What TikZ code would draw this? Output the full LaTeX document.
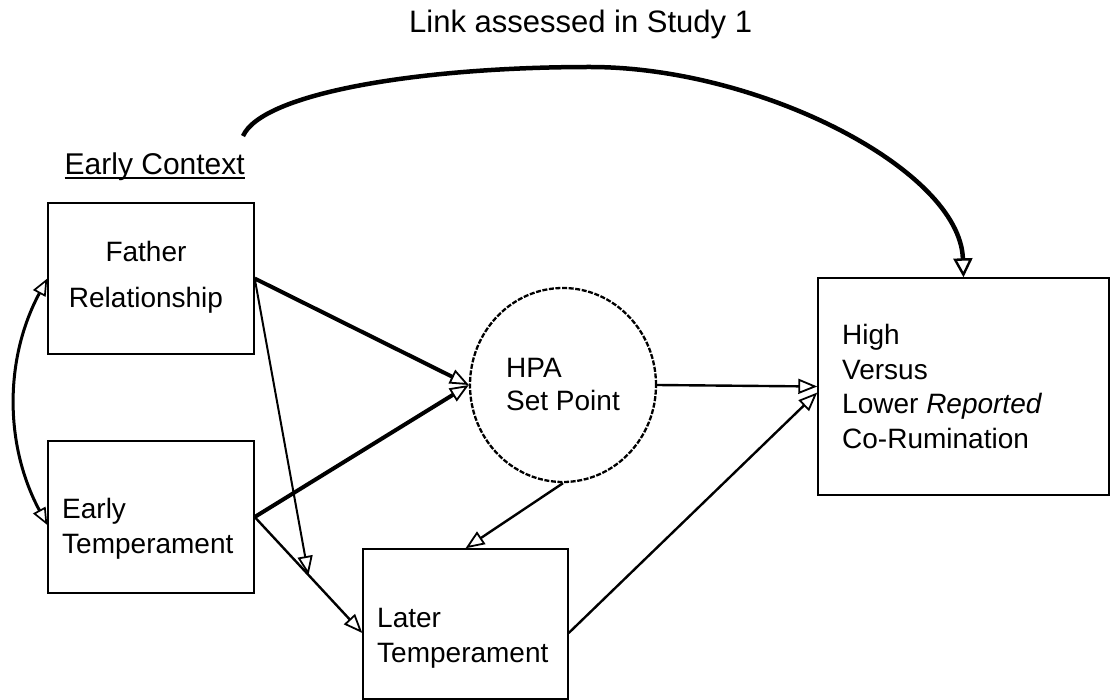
\documentclass[tikz,border=0pt]{standalone}
\usepackage{fontspec}
\setmainfont{Liberation Sans}
\usetikzlibrary{arrows.meta, shapes.geometric, calc}
\tikzset{
  x=1pt, y=-1pt,
  varbox/.style={draw, line width=1.4pt, minimum width=206pt, minimum height=151pt, inner sep=0pt},
  latent/.style={ellipse, draw, line width=2.3pt, dash pattern=on 5pt off 1.6pt,
    minimum width=186pt, minimum height=194pt, inner sep=0pt},
  varname/.style={anchor=base west, inner sep=0pt, align=left, font=\fontsize{28}{35}\selectfont},
  tip/.style={-{Triangle[open, length=19pt, width=15pt, line width=1.8pt]}},
  bigtip/.style={-{Triangle[open, length=19pt, width=19pt, line width=2.4pt]}},
  bothtips/.style={{Triangle[open, length=17pt, width=14pt, line width=1.7pt]}-{Triangle[open, length=17pt, width=14pt, line width=1.7pt]}},
  strong/.style={tip, line width=4pt},
  weak/.style={tip, line width=2.4pt},
}
\begin{document}
\begin{tikzpicture}
\useasboundingbox (0,0) rectangle (1110,700);
% headings
\node[anchor=base west, font=\fontsize{31}{36}\selectfont, inner sep=0pt] (study) at (409,33) {Link assessed in Study 1};
\node[anchor=base east, font=\fontsize{30}{36}\selectfont, inner sep=0pt] (ctx) at (245,175) {Early Context};
\draw[line width=1.6pt] ([yshift=-3pt]ctx.base west) -- ([yshift=-3pt]ctx.base east);
% boxes
\node[varbox] (father) at (151,278.5) {};
\node[varbox, minimum height=152pt] (early) at (151,517) {};
\node[varbox, minimum width=205pt, minimum height=150pt] (later) at (465.5,624) {};
\node[latent] (hpa) at (563,385) {};
\node[varbox, minimum width=291pt, minimum height=217pt] (high) at (963.5,386.5) {};
% texts (placed at the baseline of the last line)
\node[varname, anchor=base, align=center, font=\fontsize{28}{46}\selectfont] (father text) at (146,308) {Father\\Relationship};
\node[varname] (early text) at (62,553) {Early\\Temperament};
\node[varname] (later text) at (377,662) {Later\\Temperament};
\node[varname, font=\fontsize{28}{33}\selectfont] (hpa text) at (506,410) {HPA\\Set Point};
\node[varname, font=\fontsize{28}{34.4}\selectfont] (high text) at (842,448) {High\\Versus\\Lower \textit{Reported}\\Co-Rumination};
% paths
\draw[bothtips, line width=3pt] (father.west) .. controls +(-43,80) and +(-43,-80) .. ([yshift=-8pt]early.west);
\draw[strong] (father.east) -- (hpa.west);
\draw[strong] (early.east) -- (hpa.west);
\draw[weak] (early.east) -- coordinate[pos=0.5] (mod) ([yshift=-9pt]later.west);
\draw[tip, line width=2pt] (father.east) -- (mod);
\draw[weak] (hpa.south) -- (later.north);
\draw[weak] (hpa.east) -- (high.west);
\draw[weak] ([yshift=-9pt]later.east) -- ([yshift=-6pt]high.west);
\draw[bigtip, line width=4.5pt] ([xshift=-2pt,yshift=17pt]ctx.north east)
  .. controls +(19,-43) and (420,67) .. (590,67)
  .. controls (760,67) and (960,170) .. (high.north);
\end{tikzpicture}
\end{document}
